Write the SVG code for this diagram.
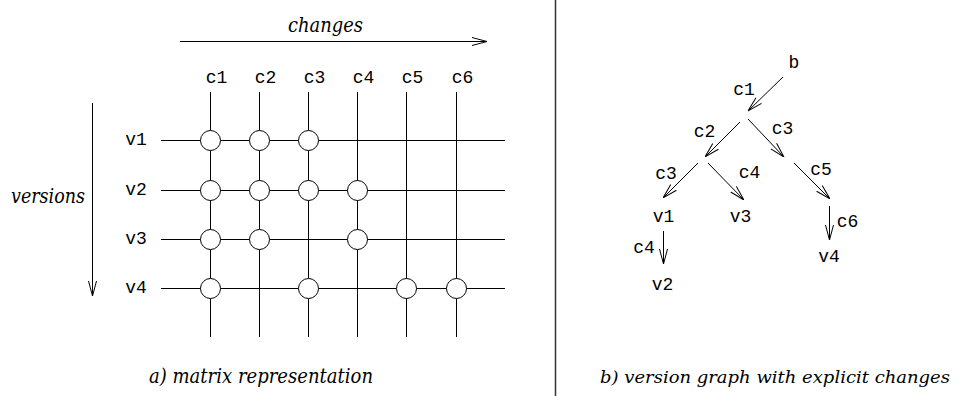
<svg xmlns="http://www.w3.org/2000/svg" width="958" height="396" viewBox="0 0 958 396">
<style>
.ln{stroke:#000;stroke-width:1;fill:none}
.ar{stroke:#000;stroke-width:1;fill:none;marker-end:url(#arr)}
.nd{fill:#fff;stroke:#000;stroke-width:1}
.mono{font-family:"Liberation Mono","Courier New",monospace;font-size:18px;fill:#000;text-anchor:middle}
.it{font-family:"DejaVu Serif","Liberation Serif",serif;font-style:italic;font-size:21px;fill:#000}
</style>
<defs>
<marker id="arr" viewBox="0 0 15 10" refX="15" refY="5" markerWidth="15" markerHeight="10" markerUnits="userSpaceOnUse" orient="auto">
<path d="M0,1 L15,5 L0,9" fill="none" stroke="#000" stroke-width="1"/>
</marker>
</defs>
<rect width="958" height="396" fill="#fff"/>

<g id="connectors">
<line class="ar" x1="180" y1="41.5" x2="487" y2="41.5"/>
<line class="ar" x1="92.5" y1="103" x2="92.5" y2="296"/>
<line x1="555.5" y1="0" x2="555.5" y2="396" stroke="#333" stroke-width="1.5"/>
<g id="grid">
<line class="ln" x1="210.5" y1="92" x2="210.5" y2="337"/>
<line class="ln" x1="259.5" y1="92" x2="259.5" y2="337"/>
<line class="ln" x1="308.5" y1="92" x2="308.5" y2="337"/>
<line class="ln" x1="357.5" y1="92" x2="357.5" y2="337"/>
<line class="ln" x1="406.5" y1="92" x2="406.5" y2="337"/>
<line class="ln" x1="456.5" y1="92" x2="456.5" y2="337"/>
<line class="ln" x1="161" y1="140.5" x2="505" y2="140.5"/>
<line class="ln" x1="161" y1="190.5" x2="505" y2="190.5"/>
<line class="ln" x1="161" y1="239.5" x2="505" y2="239.5"/>
<line class="ln" x1="161" y1="288.5" x2="505" y2="288.5"/>
</g>
<line class="ar" x1="783" y1="77" x2="748" y2="111"/>
<line class="ar" x1="740" y1="122" x2="705" y2="157"/>
<line class="ar" x1="748" y1="119" x2="784" y2="157"/>
<line class="ar" x1="698" y1="163" x2="663" y2="198"/>
<line class="ar" x1="708" y1="163" x2="744" y2="200"/>
<line class="ar" x1="794" y1="163" x2="830" y2="199"/>
<line class="ar" x1="829.5" y1="206" x2="829.5" y2="240"/>
<line class="ar" x1="663.5" y1="231" x2="663.5" y2="264"/>
</g>

<g id="matrix-nodes">
<circle class="nd" cx="210.5" cy="140.5" r="10"/>
<circle class="nd" cx="259.5" cy="140.5" r="10"/>
<circle class="nd" cx="308.5" cy="140.5" r="10"/>
<circle class="nd" cx="210.5" cy="190.5" r="10"/>
<circle class="nd" cx="259.5" cy="190.5" r="10"/>
<circle class="nd" cx="308.5" cy="190.5" r="10"/>
<circle class="nd" cx="357.5" cy="190.5" r="10"/>
<circle class="nd" cx="210.5" cy="239.5" r="10"/>
<circle class="nd" cx="259.5" cy="239.5" r="10"/>
<circle class="nd" cx="357.5" cy="239.5" r="10"/>
<circle class="nd" cx="210.5" cy="288.5" r="10"/>
<circle class="nd" cx="308.5" cy="288.5" r="10"/>
<circle class="nd" cx="406.5" cy="288.5" r="10"/>
<circle class="nd" cx="456.5" cy="288.5" r="10"/>
</g>

<g id="matrix-labels">
<text class="mono" x="216.5" y="83">c1</text>
<text class="mono" x="265.5" y="83">c2</text>
<text class="mono" x="314.5" y="83">c3</text>
<text class="mono" x="363.5" y="83">c4</text>
<text class="mono" x="412.5" y="83">c5</text>
<text class="mono" x="462.5" y="83">c6</text>
<text class="mono" x="136" y="145">v1</text>
<text class="mono" x="136" y="195">v2</text>
<text class="mono" x="136" y="244">v3</text>
<text class="mono" x="136" y="293">v4</text>
<text class="it" x="288" y="32" textLength="75" lengthAdjust="spacingAndGlyphs">changes</text>
<text class="it" x="11" y="203" textLength="74" lengthAdjust="spacingAndGlyphs">versions</text>
<text class="it" x="149" y="383" textLength="224" lengthAdjust="spacingAndGlyphs">a) matrix representation</text>
</g>

<g id="node-b"><text class="mono" x="794" y="68">b</text></g>
<g id="node-v1"><text class="mono" x="663.5" y="222">v1</text></g>
<g id="node-v3"><text class="mono" x="740.5" y="222">v3</text></g>
<g id="node-v4"><text class="mono" x="829" y="262">v4</text></g>
<g id="node-v2"><text class="mono" x="662.5" y="290">v2</text></g>

<g id="graph-labels">
<text class="mono" x="744" y="95">c1</text>
<text class="mono" x="704.5" y="137">c2</text>
<text class="mono" x="782.5" y="134">c3</text>
<text class="mono" x="666" y="179">c3</text>
<text class="mono" x="749.5" y="178">c4</text>
<text class="mono" x="821" y="175">c5</text>
<text class="mono" x="847.5" y="227">c6</text>
<text class="mono" x="644" y="253">c4</text>
<text class="it" x="600" y="383" style="font-size:17.5px" textLength="350" lengthAdjust="spacingAndGlyphs">b) version graph with explicit changes</text>
</g>
</svg>
